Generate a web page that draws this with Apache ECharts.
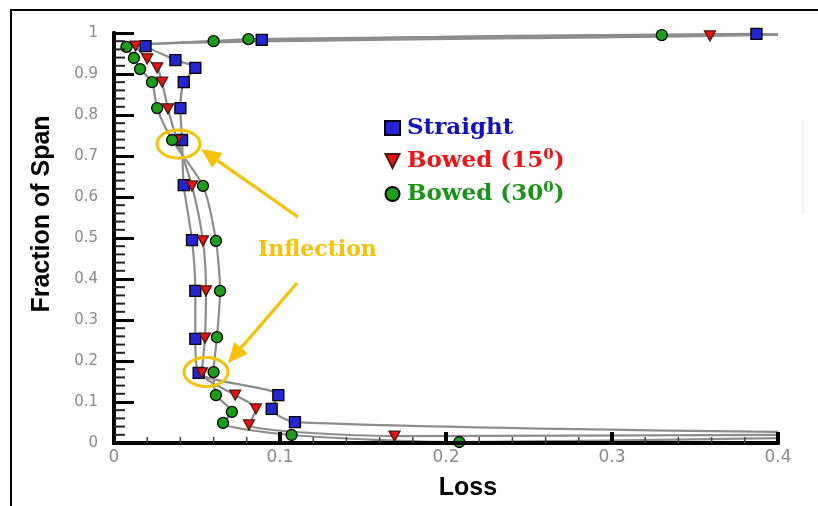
<!DOCTYPE html>
<html><head><meta charset="utf-8">
<script src="https://cdn.jsdelivr.net/npm/echarts@6/dist/echarts.min.js"></script>
<style>html,body{margin:0;padding:0;background:#fff}
#wrap{position:relative;width:818px;height:506px}
#c,#t{position:absolute;left:0;top:0;width:818px;height:506px}
#t{pointer-events:none}</style>
</head><body><div id="wrap"><div id="c"></div><div id="t"></div></div>
<script>
// ---- data ----
const seriesNames = ['Straight', 'Bowed (15⁰)', 'Bowed (30⁰)'];

const straightLoss = [0.387, 0.089, 0.019, 0.037, 0.049, 0.042, 0.040, 0.041, 0.042, 0.047, 0.049, 0.049, 0.051, 0.099, 0.095, 0.109];
const straightSpan = [0.998, 0.983, 0.968, 0.934, 0.915, 0.880, 0.817, 0.739, 0.629, 0.495, 0.371, 0.254, 0.171, 0.117, 0.083, 0.051];

const bowed15Loss = [0.359, 0.013, 0.020, 0.026, 0.029, 0.0325, 0.038, 0.047, 0.0536, 0.0554, 0.0548, 0.053, 0.073, 0.0855, 0.0813, 0.169];
const bowed15Span = [0.993, 0.968, 0.937, 0.915, 0.880, 0.815, 0.739, 0.627, 0.493, 0.371, 0.256, 0.171, 0.117, 0.083, 0.044, 0.017];

const bowed30Loss = [0.330, 0.081, 0.060, 0.0075, 0.012, 0.0157, 0.0229, 0.026, 0.035, 0.0536, 0.0614, 0.0639, 0.062, 0.060, 0.0614, 0.071, 0.0657, 0.107, 0.208];
const bowed30Span = [0.995, 0.985, 0.980, 0.966, 0.939, 0.912, 0.880, 0.817, 0.739, 0.627, 0.493, 0.371, 0.258, 0.173, 0.117, 0.076, 0.049, 0.0195, 0.0024];

// where the fitted curves leave the plot on the right (loss, span)
const curveTopEnd = [0.4, 0.996];
const straightBottomEnd = [0.4, 0.027];
const bowed15BottomEnd = [0.4, 0.020];
const bowed30BottomEnd = [0.4, 0.012];

const xTickLabels = [0, 0.1, 0.2, 0.3, 0.4];
const yTickLabels = [0, 0.1, 0.2, 0.3, 0.4, 0.5, 0.6, 0.7, 0.8, 0.9, 1];
const minorPerMajor = 5;

const annotationText = 'Inflection';
const xAxisTitle = 'Loss';
const yAxisTitle = 'Fraction of Span';

// ---- build ----
const zip = (a, b) => a.map((v, i) => [v, b[i]]);
const downTriangle = 'path://M0,0L10,0L5,10Z';
const seriesDefs = [
  { name: seriesNames[0], pts: zip(straightLoss, straightSpan), end: straightBottomEnd,
    symbol: 'rect', icon: 'rect', color: '#2424d4', border: '#000', text: '#1010c4' },
  { name: seriesNames[1], pts: zip(bowed15Loss, bowed15Span), end: bowed15BottomEnd,
    symbol: downTriangle, icon: downTriangle, color: '#ee1010', border: '#4a1a10', text: '#f01414' },
  { name: seriesNames[2], pts: zip(bowed30Loss, bowed30Span), end: bowed30BottomEnd,
    symbol: 'circle', icon: 'circle', color: '#19a019', border: '#000', text: '#189418' }
];

function tickList(labels) {
  const out = [];
  for (let i = 0; i < labels.length; i++) {
    out.push([labels[i], 1]);
    if (i < labels.length - 1) {
      const step = (labels[i + 1] - labels[i]) / minorPerMajor;
      for (let k = 1; k < minorPerMajor; k++) out.push([labels[i] + step * k, 0]);
    }
  }
  return out;
}
const xTicks = tickList(xTickLabels);
const yTicks = tickList(yTickLabels);

const series = [];
seriesDefs.forEach(d => {
  series.push({
    type: 'line', name: d.name + ' curve', data: [curveTopEnd, ...d.pts, d.end],
    smooth: 0.25, showSymbol: false, symbol: 'none', silent: true, z: 1,
    lineStyle: { color: '#8d8d8d', width: 2.2 }
  });
});
seriesDefs.forEach(d => {
  series.push({
    type: 'scatter', name: d.name, data: d.pts, z: 5,
    symbol: d.symbol, symbolSize: d.symbol === downTriangle ? [11, 10] : 11,
    itemStyle: { color: d.color, borderColor: d.border, borderWidth: 1.3, opacity: 1 }
  });
});

const gold = '#f7c200';
function arrow(x1, y1, x2, y2) {
  const dx = x2 - x1, dy = y2 - y1, L = Math.hypot(dx, dy);
  const ux = dx / L, uy = dy / L, hl = 20, hw = 9;
  const bx = x2 - ux * hl, by = y2 - uy * hl;
  return [
    { type: 'line', shape: { x1, y1, x2: bx + ux * 2, y2: by + uy * 2 }, style: { stroke: gold, lineWidth: 3.2 }, z: 10 },
    { type: 'polygon', shape: { points: [[x2, y2], [bx - uy * hw, by + ux * hw], [bx + uy * hw, by - ux * hw]] }, style: { fill: gold }, z: 10 }
  ];
}

const gridCfg = { left: 114, right: 40, top: 33, bottom: 63, containLabel: false };

const option = {
  animation: false,
  backgroundColor: '#fff',
  grid: gridCfg,
  xAxis: {
    type: 'value', min: xTickLabels[0], max: xTickLabels[xTickLabels.length - 1], interval: 0.1,
    axisLine: { show: true, onZero: false, lineStyle: { color: '#000', width: 4 } },
    axisTick: { show: false },
    splitLine: { show: false },
    axisLabel: { color: '#8a8a8a', fontFamily: 'DejaVu Sans', fontSize: 17, margin: 6 }
  },
  yAxis: {
    type: 'value', min: yTickLabels[0], max: yTickLabels[yTickLabels.length - 1], interval: 0.1,
    axisLine: { show: true, onZero: false, lineStyle: { color: '#000', width: 4 } },
    axisTick: { show: false },
    splitLine: { show: false },
    axisLabel: { color: '#8a8a8a', fontFamily: 'DejaVu Sans', fontSize: 15, margin: 16 }
  },
  legend: {
    orient: 'vertical', left: 379, top: 110, itemGap: 7, itemWidth: 15, itemHeight: 14,
    data: seriesDefs.map(d => ({ name: d.name, icon: d.icon, textStyle: { color: d.text } })),
    formatter: n => n.replace(/(\d+)⁰/, '$1{sup|0}'),
    textStyle: {
      fontFamily: 'DejaVu Serif', fontWeight: 'bold', fontSize: 23, lineHeight: 26, padding: [0, 0, 0, 2],
      rich: { sup: { fontFamily: 'DejaVu Serif', fontWeight: 'bold', fontSize: 15, verticalAlign: 'top', lineHeight: 15 } }
    }
  },
  graphic: [
    { type: 'line', shape: { x1: 10, y1: 10, x2: 818, y2: 10 }, style: { stroke: '#000', lineWidth: 2 } },
    { type: 'line', shape: { x1: 11, y1: 9, x2: 11, y2: 506 }, style: { stroke: '#000', lineWidth: 2 } },
    { type: 'line', shape: { x1: 803, y1: 120, x2: 803, y2: 214 }, style: { stroke: '#e2e2e2', lineWidth: 1 } },
    { type: 'text', x: 42, y: 214, rotation: Math.PI / 2,
      style: { text: yAxisTitle, font: 'bold 25px "Liberation Sans", Arial, sans-serif', fill: '#000', align: 'center', verticalAlign: 'middle' } },
    { type: 'text', x: 468, y: 488,
      style: { text: xAxisTitle, font: 'bold 25px "Liberation Sans", Arial, sans-serif', fill: '#000', align: 'center', verticalAlign: 'middle' } },
    { type: 'text', x: 258, y: 250, z: 10,
      style: { text: annotationText, font: 'bold 22px "DejaVu Serif", serif', fill: gold, align: 'left', verticalAlign: 'middle' } },
    { type: 'ellipse', shape: { cx: 178.5, cy: 144, rx: 21.5, ry: 14 }, style: { stroke: gold, lineWidth: 3, fill: 'none' }, z: 10 },
    { type: 'ellipse', shape: { cx: 206, cy: 372, rx: 22, ry: 14.5 }, style: { stroke: gold, lineWidth: 3, fill: 'none' }, z: 10 },
    ...arrow(298, 217, 201, 149),
    ...arrow(297, 283, 228, 363)
  ],
  series
};

const chart = echarts.init(document.getElementById('c'));
chart.setOption(option);

// ---- overlay instance with the same axes: draws the inside axis ticks ----
const tickChart = echarts.init(document.getElementById('t'));
tickChart.setOption({
  animation: false,
  grid: gridCfg,
  xAxis: { type: 'value', min: xTickLabels[0], max: xTickLabels[xTickLabels.length - 1], interval: 0.1,
    axisLine: { show: true, lineStyle: { color: '#000', width: 4 } },
    axisTick: { show: true, inside: true, length: 11, lineStyle: { color: '#000', width: 4 } },
    axisLabel: { show: false }, splitLine: { show: false } },
  yAxis: { type: 'value', min: yTickLabels[0], max: yTickLabels[yTickLabels.length - 1], interval: 0.1,
    axisLine: { show: true, lineStyle: { color: '#000', width: 4 } },
    axisTick: { show: true, inside: true, length: 20, lineStyle: { color: '#000', width: 3 } },
    axisLabel: { show: false }, splitLine: { show: false } },
  series: [{ type: 'scatter', data: [], silent: true }]
});
const minorGraphic = [];
yTicks.filter(t => !t[1]).forEach(([v]) => {
  const p = tickChart.convertToPixel({ gridIndex: 0 }, [xTickLabels[0], v]);
  minorGraphic.push({ type: 'line', z: 50, shape: { x1: p[0], y1: p[1], x2: p[0] + 11, y2: p[1] },
    style: { stroke: '#222', lineWidth: 2 } });
});
xTicks.filter(t => !t[1]).forEach(([v]) => {
  const p = tickChart.convertToPixel({ gridIndex: 0 }, [v, yTickLabels[0]]);
  minorGraphic.push({ type: 'line', z: 50, shape: { x1: p[0], y1: p[1], x2: p[0], y2: p[1] - 6 },
    style: { stroke: '#444', lineWidth: 1.5 } });
});
tickChart.setOption({ graphic: minorGraphic });
</script>
</body></html>
